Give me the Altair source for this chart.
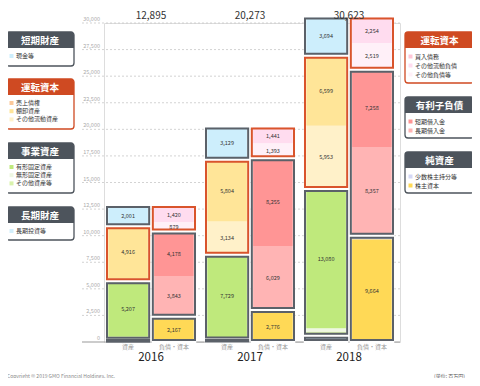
import altair as alt
import pandas as pd

years = ["2016", "2017", "2018"]
totals = [12895, 20273, 30623]
sides = ["資産", "負債・資本"]
tick_values = [0, 2500, 5000, 7500, 10000, 12500, 15000, 17500, 20000, 22500, 25000, 27500, 30000]

# 資産 (bottom -> top)
long_invest = [201, 227, 597]        # 長期投資等
other_assets = [200, 150, 400]       # その他資産等
intangible = [100, 100, 300]         # 無形固定資産
tangible = [5207, 7729, 13080]       # 有形固定資産
other_current = [270, 3134, 5953]    # その他流動資産
inventory = [4916, 5804, 6599]       # 棚卸資産
receivables = [0, 0, 0]              # 売上債権
cash = [2001, 3129, 3694]            # 現金等

# 負債・資本 (bottom -> top)
equity = [2167, 2776, 9664]          # 株主資本
minority = [208, 229, 321]           # 少数株主持分等
long_loans = [3843, 6029, 8357]      # 長期借入金
short_loans = [4178, 8255, 7258]     # 短期借入金
other_liab = [879, 1393, 2519]       # その他負債等
other_current_liab = [1420, 1441, 2254]  # その他流動負債
payables = [200, 150, 250]           # 買入債務

asset_series = [
    ("長期投資等", "長期財産", long_invest, "#d3effb"),
    ("その他資産等", "事業資産", other_assets, "#d9f2ac"),
    ("無形固定資産", "事業資産", intangible, "#eef7e2"),
    ("有形固定資産", "事業資産", tangible, "#bfe97c"),
    ("その他流動資産", "運転資本", other_current, "#fff1c9"),
    ("棚卸資産", "運転資本", inventory, "#ffe598"),
    ("売上債権", "運転資本", receivables, "#fbc89a"),
    ("現金等", "短期財産", cash, "#cdeefc"),
]
liab_series = [
    ("株主資本", "純資産", equity, "#ffd956"),
    ("少数株主持分等", "純資産", minority, "#d5d8f6"),
    ("長期借入金", "有利子負債", long_loans, "#ffb4b4"),
    ("短期借入金", "有利子負債", short_loans, "#ff9595"),
    ("その他負債等", "運転資本L", other_liab, "#fff0f8"),
    ("その他流動負債", "運転資本L", other_current_liab, "#ffdcef"),
    ("買入債務", "運転資本L", payables, "#ffc6d6"),
]
color_of = {n: c for n, g, v, c in asset_series + liab_series}

left_boxes = [
    ("短期財産", "gray", 32, 66, ["現金等"]),
    ("運転資本", "orange", 79, 129, ["売上債権", "棚卸資産", "その他流動資産"]),
    ("事業資産", "gray", 143, 193, ["有形固定資産", "無形固定資産", "その他資産等"]),
    ("長期財産", "gray", 207, 240, ["長期投資等"]),
]
right_boxes = [
    ("運転資本", "orange", 32, 83, ["買入債務", "その他流動負債", "その他負債等"]),
    ("有利子負債", "gray", 97, 138, ["短期借入金", "長期借入金"]),
    ("純資産", "gray", 152, 193, ["少数株主持分等", "株主資本"]),
]

# ---- build tables ----
seg_rows = []
for side, series in ((sides[0], asset_series), (sides[1], liab_series)):
    for i, yr in enumerate(years):
        cum = 0
        for name, group, vals, color in series:
            v = vals[i]
            seg_rows.append(dict(year=yr, side=side, name=name, group=group, value=v,
                                 y0=cum, y1=cum + v, mid=cum + v / 2,
                                 label=f"{v:,}" if v >= 800 else ""))
            cum += v
segs = pd.DataFrame(seg_rows)
segs = segs[segs.value > 0]
groups = segs.groupby(["year", "side", "group"], as_index=False).agg(y0=("y0", "min"), y1=("y1", "max"))
groups["border"] = groups["group"].map(lambda g: "orange" if g.startswith("運転資本") else "gray")

names = [s[0] for s in asset_series + liab_series]
cols = [s[3] for s in asset_series + liab_series]

W, H = 296, 319
OX, OY = 104, 23
GRAY_H, ORANGE_H = "#4d545c", "#cf4a22"

box_rows, item_rows = [], []
for boxes, bx0, bx1, first, step in ((left_boxes, 6, 74, 8, 8.2), (right_boxes, 405, 474, 8.5, 9)):
    for title, theme, y0, y1, items in boxes:
        c = ORANGE_H if theme == "orange" else GRAY_H
        box_rows.append(dict(x0=bx0 - OX, x1=bx1 - OX, y0=y0 - OY, y1=y1 - OY, hy=y0 + 16 - OY,
                             tx=(bx0 + bx1) / 2 - OX, ty=y0 + 8.5 - OY, title=title, c=c))
        for k, it in enumerate(items):
            iy = y0 + 16 + first + k * step - OY
            item_rows.append(dict(sx0=bx0 + 3.5 - OX, sx1=bx0 + 7.5 - OX, sy0=iy - 2, sy1=iy + 2,
                                  tx=bx0 + 10 - OX, ty=iy, name=it, c=color_of[it]))
boxes_df = pd.DataFrame(box_rows)
items_df = pd.DataFrame(item_rows)

# ---- encodings ----
yscale = alt.Scale(domain=[0, 30000], nice=False)
xenc = alt.X("year:N", sort=years, axis=None,
             scale=alt.Scale(range=[3, 289], paddingInner=0.111, paddingOuter=0))
xoff = alt.XOffset("side:N", sort=sides, scale=alt.Scale(paddingInner=0.08, paddingOuter=0))

ticks_df = pd.DataFrame({"t": tick_values})
grid = alt.Chart(ticks_df[ticks_df.t > 0]).mark_rule(strokeDash=[2, 2], color="#c8c8c8", strokeWidth=0.8).encode(
    y=alt.Y("t:Q", scale=yscale, axis=None), x=alt.value(-22), x2=alt.value(W))
base_line = alt.Chart(ticks_df[ticks_df.t == 0]).mark_rule(color="#999999", strokeWidth=1).encode(
    y=alt.Y("t:Q", scale=yscale, axis=None), x=alt.value(-22), x2=alt.value(W))
tick_labels = alt.Chart(ticks_df).mark_text(align="right", baseline="bottom", dy=-1, fontSize=5.5, color="#aaaaaa").encode(
    y=alt.Y("t:Q", scale=yscale, axis=None), x=alt.value(-4), text=alt.Text("t:Q", format=","))

bars = alt.Chart(segs).mark_rect().encode(
    x=xenc, xOffset=xoff,
    y=alt.Y("y1:Q", scale=yscale, axis=None), y2="y0:Q",
    color=alt.Color("name:N", scale=alt.Scale(domain=names, range=cols), legend=None))
sep = alt.Chart(groups).mark_rect(fillOpacity=0, stroke="white", strokeWidth=2.5).encode(
    x=xenc, xOffset=xoff, y=alt.Y("y1:Q", scale=yscale, axis=None), y2="y0:Q")
borders = alt.Chart(groups).mark_rect(fillOpacity=0, strokeWidth=2, yOffset=2, y2Offset=-2).encode(
    x=xenc, xOffset=xoff, y=alt.Y("y1:Q", scale=yscale, axis=None), y2="y0:Q",
    stroke=alt.Stroke("border:N", scale=alt.Scale(domain=["gray", "orange"], range=["#5b6169", "#d9542c"]), legend=None))
seg_text = alt.Chart(segs).mark_text(fontSize=5.5, color="#333333").encode(
    x=xenc, xOffset=xoff, y=alt.Y("mid:Q", scale=yscale, axis=None), text="label:N")

tot_df = pd.DataFrame({"year": years, "total": totals})
tot_text = alt.Chart(tot_df).mark_text(fontSize=10, color="#333333").encode(
    x=xenc, y=alt.value(-7.5), text=alt.Text("total:Q", format=","))
year_text = alt.Chart(tot_df).mark_text(fontSize=11.5, color="#222222").encode(
    x=xenc, y=alt.value(335), text="year:N")
side_df = pd.DataFrame([dict(year=y, side=s) for y in years for s in sides])
side_text = alt.Chart(side_df).mark_text(fontSize=6, color="#999999").encode(
    x=xenc, xOffset=xoff, y=alt.value(324), text="side:N")

foot_df = pd.DataFrame({"a": [0]})
copyright_t = alt.Chart(foot_df).mark_text(text="Copyright © 2019 GMO Financial Holdings, Inc.", align="left",
                                           fontSize=5, color="#888888").encode(x=alt.value(-97), y=alt.value(353))
unit_t = alt.Chart(foot_df).mark_text(text="(単位: 百万円)", align="right", fontSize=5, color="#555555").encode(
    x=alt.value(361), y=alt.value(353))

main = alt.layer(grid, base_line, tick_labels, bars, sep, borders, seg_text, tot_text, year_text, side_text,
                 copyright_t, unit_t)

px = lambda f: alt.X(f, type="quantitative", scale=None, axis=None)
py = lambda f: alt.Y(f, type="quantitative", scale=None, axis=None)
box_outer = alt.Chart(boxes_df).mark_rect(fill="white", strokeWidth=1.3, cornerRadius=3).encode(
    x=px("x0"), x2="x1", y=py("y0"), y2="y1", stroke=alt.Stroke("c:N", scale=None))
box_head = alt.Chart(boxes_df).mark_rect(cornerRadiusTopLeft=3, cornerRadiusTopRight=3).encode(
    x=px("x0"), x2="x1", y=py("y0"), y2="hy", fill=alt.Fill("c:N", scale=None))
box_title = alt.Chart(boxes_df).mark_text(fontSize=9.5, fontWeight="bold", color="white").encode(
    x=px("tx"), y=py("ty"), text="title:N")
sw = alt.Chart(items_df).mark_rect().encode(
    x=px("sx0"), x2="sx1", y=py("sy0"), y2="sy1", fill=alt.Fill("c:N", scale=None))
item_t = alt.Chart(items_df).mark_text(align="left", fontSize=6, color="#333333").encode(
    x=px("tx"), y=py("ty"), text="name:N")
legend = alt.layer(box_outer, box_head, box_title, sw, item_t)

chart = alt.layer(main, legend).resolve_scale(x="independent", y="independent").properties(
    width=W, height=H,
    padding={"left": 96, "top": 15, "right": 72, "bottom": 36},
    autosize=alt.AutoSizeParams(type="none"),
).configure_view(strokeWidth=0).configure(font="Noto Sans CJK JP")

chart.save("out.html", embed_options={"renderer": "svg", "actions": False})
